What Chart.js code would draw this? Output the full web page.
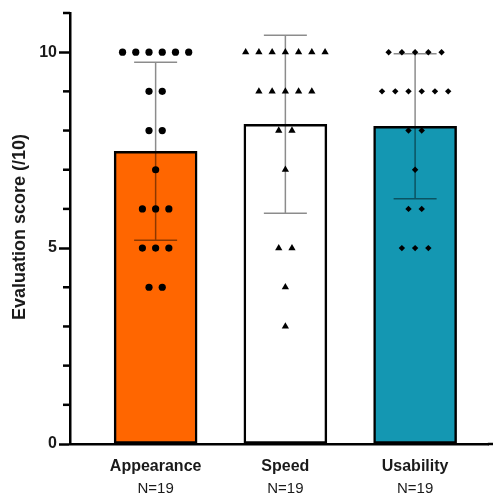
<!DOCTYPE html>
<html>
<head>
<meta charset="utf-8">
<script src="https://cdn.jsdelivr.net/npm/chart.js@4/dist/chart.umd.min.js"></script>
<style>
  html, body { margin: 0; padding: 0; background: #fff; }
  #wrap { width: 493px; height: 497px; }
</style>
</head>
<body>
<div id="wrap"><canvas id="chart"></canvas></div>
<script>
// Datos
const categories = ['Appearance', 'Speed', 'Usability'];
const sampleSizes = [19, 19, 19];
const appearanceScores = [10, 10, 10, 10, 10, 10, 9, 9, 8, 8, 7, 6, 6, 6, 5, 5, 5, 4, 4];
const speedScores = [10, 10, 10, 10, 10, 10, 10, 9, 9, 9, 9, 9, 8, 8, 7, 5, 5, 4, 3];
const usabilityScores = [10, 10, 10, 10, 10, 9, 9, 9, 9, 9, 9, 8, 8, 7, 6, 6, 5, 5, 5];
const means = [7.47, 8.16, 8.11];
const sds = [2.27, 2.27, 1.85];
const yTickLabels = [0, 5, 10];

const FONT = '"Liberation Sans", Arial, sans-serif';
const barColors = ['#ff6600', '#ffffff', '#1497b2'];
const pointStyles = ['circle', 'triangle', 'rectRot'];
const pointRadii = [3.6, 4.2, 3.2];
const jitterStep = 0.102;

// reparte los puntos de igual valor a los lados del centro
function swarm(scores, catIndex) {
  const counts = {};
  scores.forEach(s => { counts[s] = (counts[s] || 0) + 1; });
  const seen = {};
  return scores.map(s => {
    const i = seen[s] || 0;
    seen[s] = i + 1;
    return { x: catIndex + (i - (counts[s] - 1) / 2) * jitterStep, y: s };
  });
}

const allScores = [appearanceScores, speedScores, usabilityScores];

const scatterSets = allScores.map((scores, i) => ({
  type: 'scatter',
  label: categories[i] + ' scores',
  data: swarm(scores, i),
  pointStyle: pointStyles[i],
  pointRadius: pointRadii[i],
  pointBackgroundColor: '#000',
  pointBorderColor: '#000',
  pointBorderWidth: 0,
  order: 1
}));

const extras = {
  id: 'extras',
  afterDatasetDraw(chart, args) {
    if (args.index !== 0) return;
    const ctx = chart.ctx;
    const x = chart.scales.x, y = chart.scales.y;
    ctx.save();
    ctx.strokeStyle = 'rgba(0,0,0,0.45)';
    ctx.lineWidth = 1.5;
    means.forEach((m, i) => {
      const cx = x.getPixelForValue(i);
      const top = y.getPixelForValue(m + sds[i]);
      const bot = y.getPixelForValue(m - sds[i]);
      ctx.beginPath();
      ctx.moveTo(cx, top); ctx.lineTo(cx, bot);
      ctx.moveTo(cx - 21.5, top); ctx.lineTo(cx + 21.5, top);
      ctx.moveTo(cx - 21.5, bot); ctx.lineTo(cx + 21.5, bot);
      ctx.stroke();
    });
    ctx.restore();
  },
  afterDraw(chart) {
    const ctx = chart.ctx;
    const x = chart.scales.x, y = chart.scales.y;
    const area = chart.chartArea;
    ctx.save();
    ctx.strokeStyle = '#000';
    ctx.lineWidth = 2.5;
    // el eje x llega hasta el borde
    ctx.beginPath();
    ctx.moveTo(area.right - 1, x.top);
    ctx.lineTo(chart.width, x.top);
    ctx.stroke();
    // marcas menores del eje y
    for (let v = 0; v <= 11; v++) {
      if (v % 5 === 0) continue;
      const py = y.getPixelForValue(v);
      ctx.beginPath();
      ctx.moveTo(area.left - 7, py); ctx.lineTo(area.left, py);
      ctx.stroke();
    }
    // etiquetas de categoría
    ctx.fillStyle = '#1a1a1a';
    ctx.textAlign = 'center';
    ctx.textBaseline = 'alphabetic';
    categories.forEach((c, i) => {
      const px = x.getPixelForValue(i);
      ctx.font = 'bold 16px ' + FONT;
      ctx.fillText(c, px, 471);
      ctx.font = '15px ' + FONT;
      ctx.fillText('N=' + sampleSizes[i], px, 493);
    });
    // título del eje y
    ctx.translate(20, 227);
    ctx.rotate(-Math.PI / 2);
    ctx.textBaseline = 'middle';
    ctx.font = 'bold 18px ' + FONT;
    ctx.fillText('Evaluation score (/10)', 0, 0);
    ctx.restore();
  }
};

new Chart(document.getElementById('chart'), {
  type: 'bar',
  data: {
    datasets: [{
      label: 'Mean',
      data: means.map((m, i) => ({ x: i, y: m })),
      backgroundColor: barColors,
      borderColor: '#000',
      borderWidth: 2.5,
      borderSkipped: false,
      barThickness: 83,
      order: 10
    }, ...scatterSets]
  },
  options: {
    responsive: true,
    maintainAspectRatio: false,
    animation: false,
    layout: { padding: { top: 13, right: 0, left: 0, bottom: 0 } },
    plugins: {
      legend: { display: false },
      tooltip: { enabled: false }
    },
    scales: {
      x: {
        type: 'linear',
        offset: false,
        min: -0.66,
        max: 2.568,
        grid: { display: false, drawTicks: false, offset: false },
        border: { color: '#000', width: 2.5 },
        ticks: { display: false },
        afterFit(scale) { scale.height = 53; }
      },
      y: {
        min: 0,
        max: 11,
        grid: {
          drawOnChartArea: false,
          tickLength: 11,
          tickWidth: 2.5,
          tickColor: c => (c.tick && c.tick.value % 5 === 0 && c.tick.value <= 10) ? '#000' : 'rgba(0,0,0,0)'
        },
        border: { color: '#000', width: 2.5 },
        ticks: {
          stepSize: 1,
          padding: 2,
          color: '#1a1a1a',
          font: { family: FONT, size: 16, weight: 'bold' },
          callback: v => yTickLabels.includes(v) ? String(v) : ''
        },
        afterFit(scale) { scale.width = 70; }
      }
    }
  },
  plugins: [extras]
});
</script>
</body>
</html>
